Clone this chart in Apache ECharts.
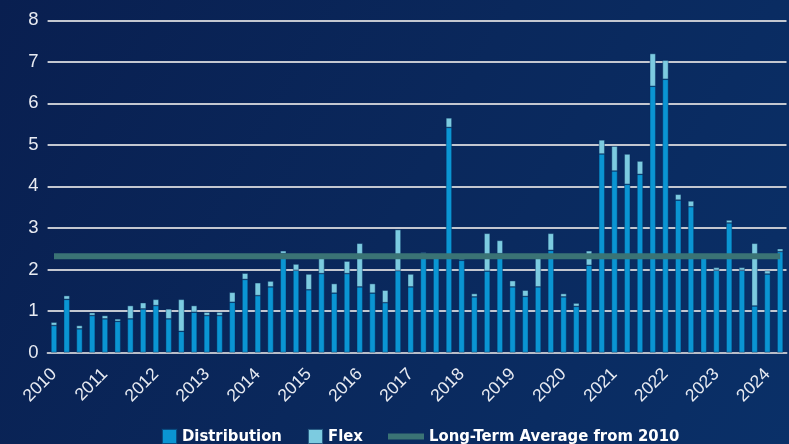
<!DOCTYPE html>
<html>
<head>
<meta charset="utf-8">
<script src="https://cdn.jsdelivr.net/npm/echarts@6/dist/echarts.min.js"></script>
<style>
html,body{margin:0;padding:0;}
#chart{width:789px;height:444px;}
</style>
</head>
<body>
<div id="chart"></div>
<script>
// quarters 2010 Q1 .. 2024 Q2
var years = [2010,2011,2012,2013,2014,2015,2016,2017,2018,2019,2020,2021,2022,2023,2024];
var quarters = [];
for (var y = 0; y < years.length; y++) {
	for (var q = 1; q <= 4; q++) {
		if (years[y] == 2024 && q > 2) break;
		quarters.push(years[y] + ' Q' + q);
	}
}
var distribution = [
	0.65,1.28,0.57,0.89,0.81,0.75,0.81,1.05,1.13,0.81,
	0.51,0.97,0.89,0.89,1.21,1.76,1.37,1.58,2.38,1.98,
	1.51,1.90,1.43,1.90,1.58,1.43,1.20,1.97,1.58,2.38,
	2.35,5.42,2.22,1.34,1.96,2.38,1.58,1.35,1.58,2.46,
	1.34,1.11,2.10,4.78,4.37,4.05,4.29,6.41,6.58,3.67,
	3.51,2.32,1.98,3.12,1.98,1.12,1.89,2.43
];
var flex = [
	0.08,0.09,0.08,0.07,0.08,0.06,0.32,0.15,0.15,0.24,
	0.77,0.16,0.08,0.08,0.24,0.15,0.31,0.14,0.07,0.15,
	0.38,0.48,0.23,0.30,1.05,0.23,0.30,0.99,0.31,0.03,
	0.03,0.23,0.03,0.08,0.91,0.32,0.15,0.15,0.72,0.41,
	0.08,0.08,0.35,0.34,0.60,0.73,0.32,0.79,0.46,0.14,
	0.14,0.03,0.07,0.07,0.07,1.51,0.08,0.07
];
var longTermAvg = 2.32;
var yTicks = [0,1,2,3,4,5,6,7,8];

var avgLine = [];
for (var i = 0; i < quarters.length; i++) avgLine.push(longTermAvg);

var font = "'Liberation Sans Narrow','Arial Narrow','DejaVu Sans Condensed',sans-serif";
var legendText = {color:'#ffffff',fontSize:16.5,fontWeight:'bold',fontFamily:font,padding:[2,0,0,0]};

var chart = echarts.init(document.getElementById('chart'));
var option = {
	backgroundColor: {
		type:'linear', x:0, y:0, x2:1, y2:1,
		colorStops:[{offset:0,color:'#091f50'},{offset:0.5,color:'#0a285c'},{offset:1,color:'#0a3068'}]
	},
	animation:false,
	grid:{left:47.6,right:2.5,top:20.3,bottom:91.5,containLabel:false},
	legend:[
		{data:['Distribution'],left:161,top:428,padding:0,itemWidth:15,itemHeight:15,textStyle:legendText,icon:'rect'},
		{data:['Flex'],left:307,top:428,padding:0,itemWidth:15,itemHeight:15,textStyle:legendText,icon:'rect'},
		{data:['Long-Term Average from 2010'],left:388,top:428,padding:0,itemWidth:36,itemHeight:6,textStyle:legendText,icon:'rect'}
	],
	xAxis:{
		type:'category',
		data:quarters,
		axisLine:{show:true,lineStyle:{color:'#b9bec9',width:2}},
		axisTick:{show:false},
		axisLabel:{
			interval:0,
			rotate:45,
			margin:19,
			color:'#e8ebf2',
			fontSize:17.5,
			fontFamily:'Liberation Sans, sans-serif',
			formatter:function(v){
				return v.indexOf('Q1') > 0 ? v.split(' ')[0] : '';
			}
		}
	},
	yAxis:{
		type:'value',
		min:yTicks[0],
		max:yTicks[yTicks.length-1],
		interval:1,
		axisLine:{show:false},
		axisTick:{show:false},
		splitLine:{lineStyle:{color:'#c3c7d0',width:2}},
		axisLabel:{color:'#e8ebf2',fontSize:18.5,margin:9,fontFamily:'Liberation Sans, sans-serif'}
	},
	series:[
		{
			name:'Distribution',
			type:'bar',
			stack:'total',
			barWidth:6,
			data:distribution,
			itemStyle:{color:'#0a95d3',borderColor:'rgba(8,45,95,0.7)',borderWidth:0.6}
		},
		{
			name:'Flex',
			type:'bar',
			stack:'total',
			barWidth:6,
			data:flex,
			itemStyle:{color:'#7ccbe0',borderColor:'rgba(8,45,95,0.7)',borderWidth:0.6}
		},
		{
			name:'Long-Term Average from 2010',
			type:'line',
			data:avgLine,
			symbol:'none',
			z:5,
			lineStyle:{color:'#3a7375',width:6},
			itemStyle:{color:'#3a7375'}
		}
	]
};
chart.setOption(option);
</script>
</body>
</html>
